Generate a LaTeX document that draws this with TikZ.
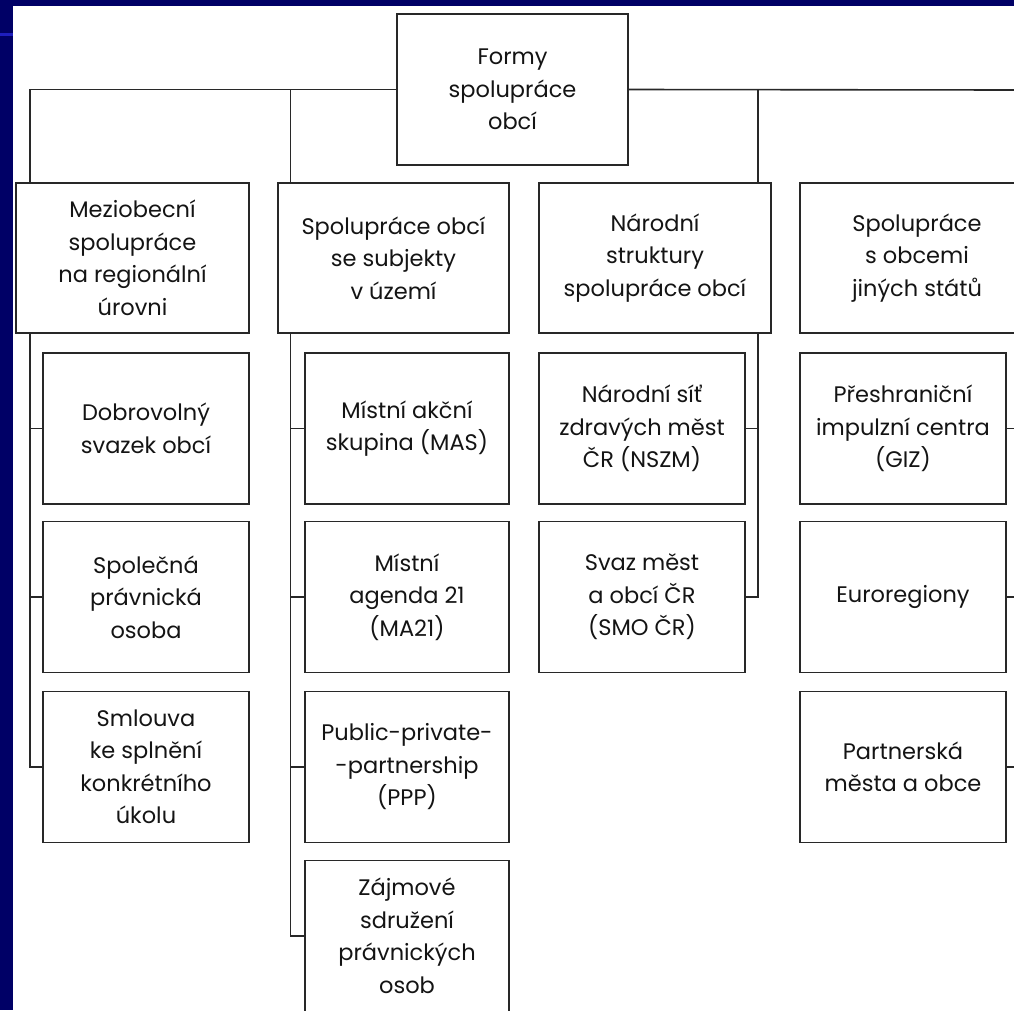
\documentclass[tikz,border=0pt]{standalone}
\usepackage{fontspec}
\setmainfont{Poppins}
\usetikzlibrary{calc}
\definecolor{navy}{RGB}{0,0,102}
\definecolor{stripe}{RGB}{30,30,190}
\definecolor{ink}{RGB}{20,20,20}
\definecolor{edgec}{RGB}{40,40,40}
\begin{document}
\begin{tikzpicture}[x=1pt,y=-1pt,
  box/.style={draw=edgec,line width=1.6pt,fill=white,rectangle,inner sep=0pt,
    minimum height=151pt,align=center,text=ink,
    font=\fontsize{22.5}{32.5}\selectfont},
  link/.style={draw=edgec,line width=1.6pt}]
\useasboundingbox (0,0) rectangle (1014,1010);
\fill[navy] (0,0) rectangle (1014,1010);
\fill[stripe] (0,33) rectangle (13,36);
\fill[white] (13,6) rectangle (1014,1010);
\clip (13,6) rectangle (1014,1010);
% top
\node[box,minimum width=231pt] (top) at (512.5,89.5) {Formy\\spolupráce\\obcí};
% level 1
\node[box,minimum width=233pt,minimum height=150pt] (a) at (132.5,258) {Meziobecní\\spolupráce\\na regionální\\úrovni};
\node[box,minimum width=231pt,minimum height=150pt] (b) at (393.5,258) {Spolupráce obcí\\se subjekty\\v území};
\node[box,minimum width=232pt,minimum height=150pt] (c) at (655,258) {Národní\\struktury\\spolupráce obcí};
\node[box,minimum width=234pt,minimum height=150pt] (d) at (917,258) {Spolupráce\\s obcemi\\jiných států};
% column 1
\node[box,minimum width=206pt] (a1) at (146,428.5) {Dobrovolný\\svazek obcí};
\node[box,minimum width=206pt] (a2) at (146,597) {Společná\\právnická\\osoba};
\node[box,minimum width=206pt] (a3) at (146,767) {Smlouva\\ke splnění\\konkrétního\\úkolu};
% column 2
\node[box,minimum width=204pt] (b1) at (407,428.5) {Místní akční\\skupina (MAS)};
\node[box,minimum width=204pt] (b2) at (407,597) {Místní\\agenda 21\\(MA21)};
\node[box,minimum width=204pt] (b3) at (407,767) {Public-private-\\-partnership\\(PPP)};
\node[box,minimum width=204pt] (b4) at (407,936) {Zájmové\\sdružení\\právnických\\osob};
% column 3
\node[box,minimum width=206pt] (c1) at (642,428.5) {Národní síť\\zdravých měst\\ČR (NSZM)};
\node[box,minimum width=206pt] (c2) at (642,597) {Svaz měst\\a obcí ČR\\(SMO ČR)};
% column 4
\node[box,minimum width=206pt] (d1) at (903,428.5) {Přeshraniční\\impulzní centra\\(GIZ)};
\node[box,minimum width=206pt] (d2) at (903,597) {Euroregiony};
\node[box,minimum width=206pt] (d3) at (903,767) {Partnerská\\města a obce};
% junction coordinates
\coordinate (ja) at (30,183);
\coordinate (jb) at (290.5,183);
\coordinate (jc) at (758,183);
\coordinate (edge) at (1016,90);
% top connectors
\draw[link] (top.west) -| (ja);
\draw[link] (top.west -| jb) -- (jb);
\draw[link] (top.east) -- (edge);
\draw[link] (top.east -| jc) -- (jc);
% column 1 spine
\draw[link] (a.south -| ja) |- (a3.west);
\draw[link] (a1.west) -- (a1.west -| ja);
\draw[link] (a2.west) -- (a2.west -| ja);
% column 2 spine
\draw[link] (b.south -| jb) |- (b4.west);
\draw[link] (b1.west) -- (b1.west -| jb);
\draw[link] (b2.west) -- (b2.west -| jb);
\draw[link] (b3.west) -- (b3.west -| jb);
% column 3 spine
\draw[link] (c.south -| jc) |- (c2.east);
\draw[link] (c1.east) -- (c1.east -| jc);
% column 4 ticks
\draw[link] (d1.east) -- (d1.east -| edge);
\draw[link] (d2.east) -- (d2.east -| edge);
\draw[link] (d3.east) -- (d3.east -| edge);
\end{tikzpicture}
\end{document}
